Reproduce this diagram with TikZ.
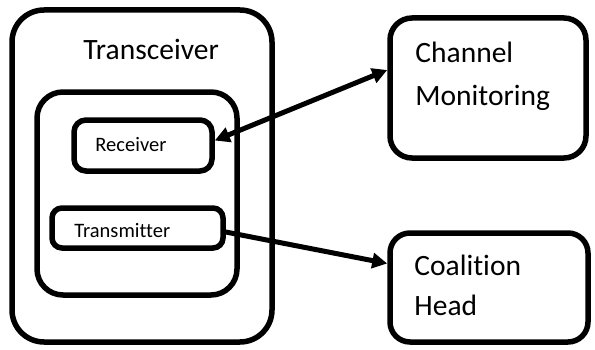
\documentclass[tikz,border=0pt]{standalone}
\usepackage{fontspec}
\setmainfont[Ligatures=NoCommon]{Carlito}
\usetikzlibrary{arrows.meta}

\tikzset{
  box/.style={draw, line width=5.5pt, inner sep=0pt, rounded corners=#1},
  box/.default=12pt,
  big/.style={font=\fontsize{29.5}{43}\selectfont, inner sep=0pt, anchor=base west, align=left},
  small/.style={font=\fontsize{20.5}{25}\selectfont, inner sep=0pt, anchor=base west},
  link/.style={line width=5pt, >={Triangle[length=15pt,width=15pt]}}
}

\begin{document}
\begin{tikzpicture}[x=1pt,y=1pt]

\useasboundingbox (0,0) rectangle (595,349);

% transceiver and its parts
\node [box=32pt, minimum width=260pt, minimum height=332pt] (trx) at (142,173) {};
\node [box=26pt, minimum width=200pt, minimum height=203pt] (inner) at (137,155.5) {};
\node [box=12pt, minimum width=138pt, minimum height=51pt] (rec) at (143,203.5) {};
\node [box=10pt, minimum width=171pt, minimum height=40pt] (trm) at (137.5,121) {};

\node [big] (trxtext) at ([shift={(74,-52)}]trx.north west) {Transceiver};
\node [small] (rectext) at ([shift={(24,-34)}]rec.north west) {Receiver};
\node [small] (trmtext) at ([shift={(25,-32)}]trm.north west) {Transmitter};

% the two blocks on the right (base = last line)
\node [box=22pt, minimum width=196pt, minimum height=140pt] (chan) at (488,261) {};
\node [box=20pt, minimum width=198pt, minimum height=109pt] (head) at (489,61.5) {};

\node [big] (chantext) at ([shift={(28,-90)}]chan.north west) {Channel\\Monitoring};
\node [big, font=\fontsize{29.5}{40}\selectfont] (headtext) at ([shift={(27,-85)}]head.north west) {Coalition\\Head};

% links
\draw [link, <->] ([yshift=5pt]rec.east) -- ([yshift=18pt]chan.west);
\draw [link, ->] ([yshift=-4pt]trm.east) -- ([yshift=24pt]head.west);

\end{tikzpicture}
\end{document}
